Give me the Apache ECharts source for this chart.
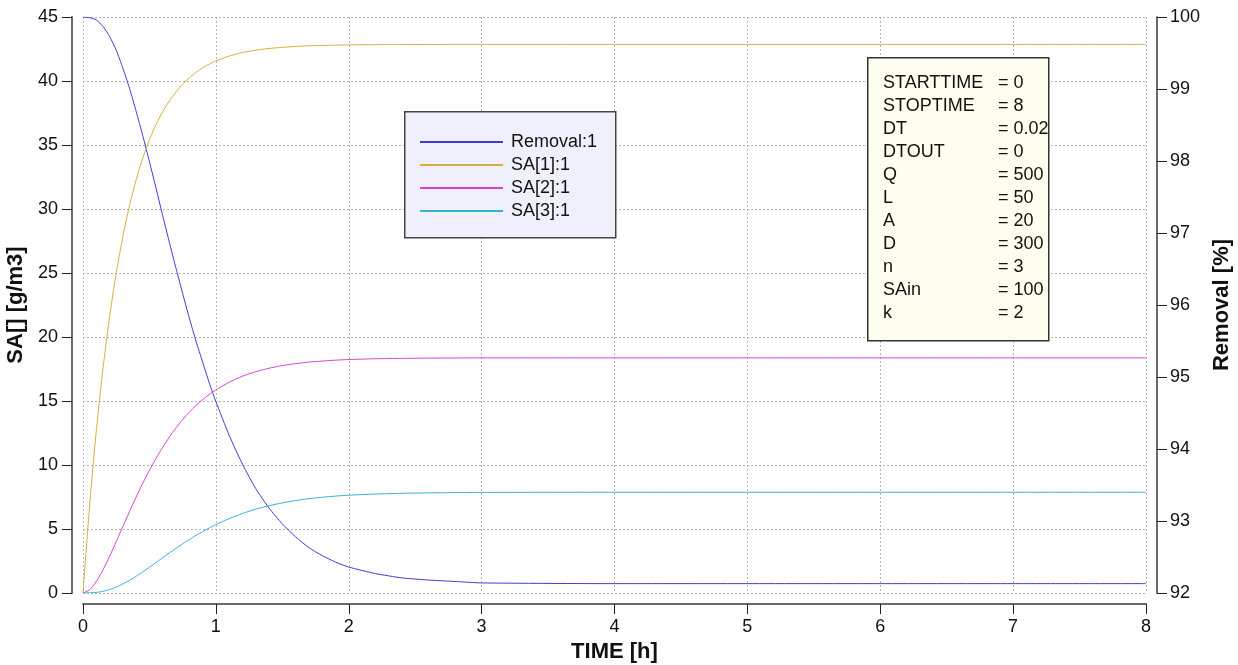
<!DOCTYPE html>
<html>
<head>
<meta charset="utf-8">
<script src="https://cdn.jsdelivr.net/npm/echarts@6/dist/echarts.min.js"></script>
<style>
  html, body { margin: 0; padding: 0; background: #ffffff; }
  #chart { width: 1238px; height: 665px; }
</style>
</head>
<body>
<div id="chart"></div>
<script>
// Simulation output: time in hours
const times = [0, 0.05, 0.1, 0.15, 0.2, 0.25, 0.3, 0.35, 0.4, 0.45, 0.5, 0.55, 0.6, 0.65, 0.7, 0.75, 0.8, 0.85, 0.9, 0.95, 1.0,
  1.1, 1.2, 1.3, 1.4, 1.5, 1.6, 1.7, 1.8, 1.9, 2.0, 2.2, 2.4, 2.6, 2.8, 3.0, 4, 5, 6, 7, 8];

// Removal [%] (right axis)
const removal = [100, 99.99, 99.96, 99.87, 99.73, 99.54, 99.29, 99.01, 98.69, 98.35, 97.99, 97.62, 97.24, 96.87, 96.51, 96.16, 95.82, 95.50, 95.21, 94.92, 94.66,
  94.19, 93.79, 93.45, 93.18, 92.96, 92.78, 92.63, 92.52, 92.43, 92.36, 92.27, 92.21, 92.18, 92.16, 92.14, 92.13, 92.13, 92.13, 92.13, 92.13];

// Concentrations in tanks 1..3 [g/m3] (left axis)
const sa1 = [0, 6.88, 12.66, 17.50, 21.58, 24.99, 27.86, 30.27, 32.29, 33.99, 35.41, 36.61, 37.61, 38.45, 39.16, 39.76, 40.25, 40.67, 41.02, 41.32, 41.57,
  41.95, 42.22, 42.41, 42.54, 42.63, 42.70, 42.75, 42.78, 42.80, 42.82, 42.84, 42.85, 42.85, 42.86, 42.86, 42.86, 42.86, 42.86, 42.86, 42.86];
const sa2 = [0, 0.25, 0.89, 1.80, 2.86, 4.01, 5.19, 6.36, 7.50, 8.58, 9.59, 10.53, 11.39, 12.18, 12.90, 13.55, 14.13, 14.65, 15.10, 15.51, 15.87,
  16.47, 16.94, 17.29, 17.56, 17.77, 17.92, 18.04, 18.12, 18.19, 18.24, 18.30, 18.33, 18.35, 18.36, 18.37, 18.37, 18.37, 18.37, 18.37, 18.37];
const sa3 = [0, 0.01, 0.04, 0.13, 0.27, 0.46, 0.71, 0.99, 1.31, 1.65, 2.01, 2.38, 2.76, 3.13, 3.49, 3.84, 4.18, 4.50, 4.79, 5.08, 5.34,
  5.81, 6.21, 6.55, 6.82, 7.04, 7.22, 7.37, 7.48, 7.57, 7.64, 7.73, 7.79, 7.82, 7.84, 7.86, 7.87, 7.87, 7.87, 7.87, 7.87];

const seriesNames = ['Removal:1', 'SA[1]:1', 'SA[2]:1', 'SA[3]:1'];
const seriesColors = ['#3c3cd6', '#d4b03c', '#d444d4', '#36b0d6'];

// Model parameters listed in the info box
const paramNames = ['STARTTIME', 'STOPTIME', 'DT', 'DTOUT', 'Q', 'L', 'A', 'D', 'n', 'SAin', 'k'];
const paramValues = ['0', '8', '0.02', '0', '500', '50', '20', '300', '3', '100', '2'];

const FONT = 'Arial, "Liberation Sans", sans-serif';

function pairs(ys) { return times.map((t, i) => [t, ys[i]]); }

const chart = echarts.init(document.getElementById('chart'), null, { renderer: 'canvas' });

// Axes sit slightly detached from the plot frame
const axisLine = { show: true, onZero: false, lineStyle: { color: '#6a6a6a', width: 2 } };
const axisTick = { show: true, length: 10, lineStyle: { color: '#222', width: 1 } };
const labelStyle = { color: '#111', fontSize: 18, fontFamily: FONT, margin: 14 };
const nameStyle = { color: '#111', fontSize: 22, fontWeight: 'bold', fontFamily: FONT };
const gridLine = { show: true, lineStyle: { color: '#b4b4b4', type: [2, 2], width: 1 } };

// Info box with parameter list
const paramGraphics = [{
  type: 'rect', left: 867, top: 57, z: 10,
  shape: { width: 181, height: 283 },
  style: { fill: '#fefef0', stroke: '#333', lineWidth: 1.5 }
}];
paramNames.forEach((n, i) => {
  paramGraphics.push({
    type: 'text', x: 883, y: 83 + i * 23, z: 11,
    style: { text: n, fill: '#111', font: '18px ' + FONT, textVerticalAlign: 'middle' }
  });
  paramGraphics.push({
    type: 'text', x: 998, y: 83 + i * 23, z: 11,
    style: { text: '= ' + paramValues[i], fill: '#111', font: '18px ' + FONT, textVerticalAlign: 'middle' }
  });
});

const option = {
  animation: false,
  backgroundColor: '#ffffff',
  grid: { left: 83, right: 92, top: 17, bottom: 72, containLabel: false, outerBoundsMode: 'none' },
  legend: {
    show: true,
    orient: 'vertical',
    left: 420, top: 133,
    padding: 0,
    icon: 'rect',
    itemWidth: 83, itemHeight: 2, itemGap: 5,
    data: seriesNames,
    textStyle: { color: '#111', fontSize: 18, fontFamily: FONT, lineHeight: 18, padding: [0, 0, 0, 3] },
    z: 12
  },
  graphic: [
    {
      type: 'rect', left: 404, top: 111, z: 9,
      shape: { width: 211, height: 126 },
      style: { fill: '#f0f0fc', stroke: '#444', lineWidth: 1.5 }
    }
  ].concat(paramGraphics),
  xAxis: {
    type: 'value', min: 0, max: 8, interval: 1,
    offset: 11,
    name: 'TIME [h]', nameLocation: 'middle', nameGap: 35, nameTextStyle: nameStyle,
    axisLine: axisLine, axisTick: axisTick, axisLabel: labelStyle,
    splitLine: gridLine
  },
  yAxis: [
    {
      type: 'value', min: 0, max: 45, interval: 5, position: 'left',
      offset: 11,
      name: 'SA[] [g/m3]', nameLocation: 'middle', nameRotate: 90, nameGap: 13, nameTextStyle: nameStyle,
      axisLine: axisLine, axisTick: axisTick, axisLabel: labelStyle,
      splitLine: gridLine
    },
    {
      type: 'value', min: 92, max: 100, interval: 1, position: 'right',
      offset: 11,
      name: 'Removal [%]', nameLocation: 'middle', nameRotate: 90, nameGap: 53, nameTextStyle: nameStyle,
      axisLine: axisLine, axisTick: axisTick, axisLabel: Object.assign({}, labelStyle, { margin: 13 }),
      splitLine: { show: false }
    }
  ],
  series: [
    { name: seriesNames[0], type: 'line', yAxisIndex: 1, data: pairs(removal) },
    { name: seriesNames[1], type: 'line', yAxisIndex: 0, data: pairs(sa1) },
    { name: seriesNames[2], type: 'line', yAxisIndex: 0, data: pairs(sa2) },
    { name: seriesNames[3], type: 'line', yAxisIndex: 0, data: pairs(sa3) }
  ].map((s, i) => Object.assign(s, {
    symbol: 'none', showSymbol: false, smooth: 0.2,
    color: seriesColors[i],
    lineStyle: { width: 1, color: seriesColors[i] },
    z: 3
  }))
};

chart.setOption(option);
</script>
</body>
</html>
